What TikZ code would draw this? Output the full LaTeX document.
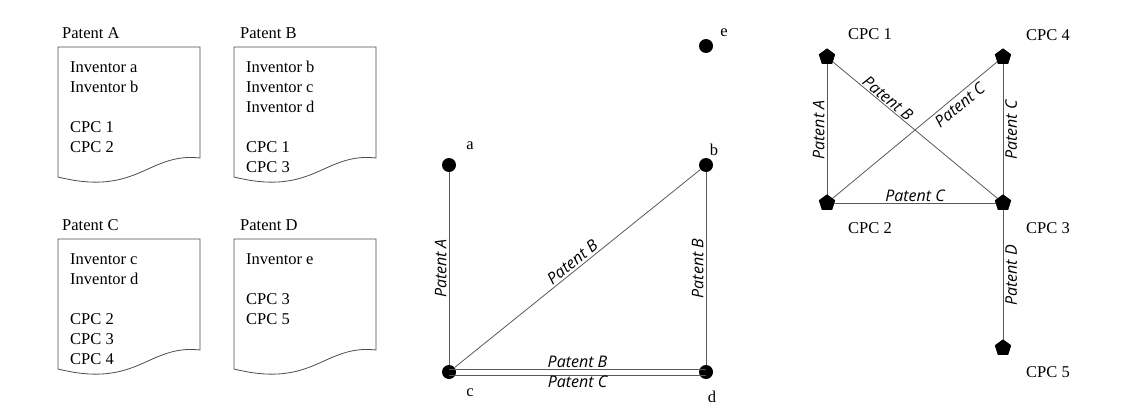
\documentclass[tikz,border=0pt]{standalone}
\usepackage{fontspec}
\setmainfont{Liberation Serif}
\setsansfont{Open Sans}
\usetikzlibrary{shapes.geometric}
\begin{document}
\begin{tikzpicture}[x=1pt,y=-1pt,
  doc/.style={draw=black!70,line width=0.8pt},
  tx/.style={anchor=west,inner sep=0,font=\fontsize{16.5}{18}\selectfont},
  lab/.style={inner sep=1pt,font=\fontsize{16.5}{18}\selectfont},
  el/.style={inner sep=2pt,font=\sffamily\itshape\fontsize{16}{18}\selectfont},
  edge/.style={draw=black!65,line width=0.8pt},
  dot/.style={circle,fill=black,minimum size=14pt,inner sep=0},
  pent/.style={regular polygon,regular polygon sides=5,fill=black,minimum size=17pt,inner sep=0}]
\useasboundingbox (0,0) rectangle (1136,410);
% documents
\foreach \x/\y in {58/47,234/47,58/239,234/239}{
  \draw[doc] (\x,\y+130) -- (\x,\y) -- (\x+142,\y) -- (\x+142,\y+111)
    .. controls (\x+90,\y+105) and (\x+80,\y+150) .. (\x,\y+130);
}
\node[tx] (ta) at (62,33) {Patent A};
\node[tx] (tb) at (240,33) {Patent B};
\node[tx] (tc) at (62,225) {Patent C};
\node[tx] (td) at (240,225) {Patent D};
\node[tx] at (70,67) {Inventor a};
\node[tx] at (70,87) {Inventor b};
\node[tx] at (70,127) {CPC 1};
\node[tx] at (70,147) {CPC 2};
\node[tx] at (246,67) {Inventor b};
\node[tx] at (246,87) {Inventor c};
\node[tx] at (246,107) {Inventor d};
\node[tx] at (246,147) {CPC 1};
\node[tx] at (246,167) {CPC 3};
\node[tx] at (70,259) {Inventor c};
\node[tx] at (70,279) {Inventor d};
\node[tx] at (70,319) {CPC 2};
\node[tx] at (70,339) {CPC 3};
\node[tx] at (70,359) {CPC 4};
\node[tx] at (246,259) {Inventor e};
\node[tx] at (246,299) {CPC 3};
\node[tx] at (246,319) {CPC 5};
% inventor graph
\node[dot] (a) at (449,165) {};
\node[dot] (b) at (706,165) {};
\node[dot] (c) at (449,372) {};
\node[dot] (d) at (706,372) {};
\node[dot] (e) at (706,46) {};
\node[lab] at (470,146) {a};
\node[lab] at (714,150) {b};
\node[lab] at (470,393) {c};
\node[lab] at (712,397) {d};
\node[lab] at (724,33) {e};
\draw[edge] (a) -- node[el,rotate=90,anchor=south] {Patent A} (c);
\draw[edge] (b) -- node[el,rotate=90,anchor=south] {Patent B} (d);
\draw[edge] (c) -- node[el,sloped,above,pos=0.5] {Patent B} (b);
\draw[edge] ([yshift=3]c.center) -- node[el,above,inner sep=1pt] {Patent B} ([yshift=3]d.center);
\draw[edge] ([yshift=-3]c.center) -- node[el,below,inner sep=1pt] {Patent C} ([yshift=-3]d.center);
% CPC graph
\node[pent] (p1) at (827,57) {};
\node[pent] (p4) at (1003,57) {};
\node[pent] (p2) at (827,203) {};
\node[pent] (p3) at (1003,203) {};
\node[pent] (p5) at (1003,348) {};
\node[lab] at (870,34) {CPC 1};
\node[lab] at (1048,35) {CPC 4};
\node[lab] at (870,228) {CPC 2};
\node[lab] at (1048,228) {CPC 3};
\node[lab] at (1048,372) {CPC 5};
\draw[edge] (p1.center) -- node[el,rotate=90,anchor=south] {Patent A} (p2.center);
\draw[edge] (p4.center) -- node[el,rotate=90,anchor=north] {Patent C} (p3.center);
\draw[edge] (p3.center) -- node[el,rotate=90,anchor=north] {Patent D} (p5.center);
\draw[edge] (p2.center) -- node[el,above,inner sep=1pt] {Patent C} (p3.center);
\draw[edge] (p1.center) -- node[el,sloped,above,pos=0.32,inner sep=1pt] {Patent B} (p3.center);
\draw[edge] (p2.center) -- node[el,sloped,below,pos=0.72,inner sep=3pt] {Patent C} (p4.center);
\foreach \n in {p1,p2,p3,p4,p5}{\node[pent] at (\n) {};}
\end{tikzpicture}
\end{document}
